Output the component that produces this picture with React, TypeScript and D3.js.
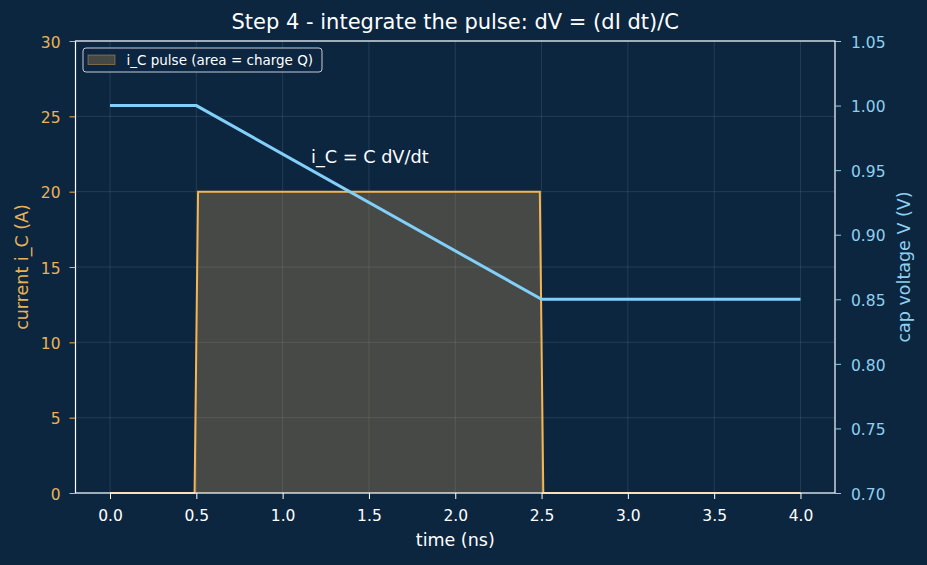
import * as d3 from "d3";
import React, { useRef, useEffect } from "react";

const currentTimes = [0, 0.49, 0.51, 2.49, 2.51, 4.0];
const currentValues = [0, 0, 20, 20, 0, 0];
const voltageTimes = [0, 0.5, 2.5, 4.0];
const voltageValues = [1.0, 1.0, 0.85, 0.85];
const xTicks = [0, 0.5, 1, 1.5, 2, 2.5, 3, 3.5, 4];
const leftTicks = [0, 5, 10, 15, 20, 25, 30];
const rightTicks = [0.7, 0.75, 0.8, 0.85, 0.9, 0.95, 1.0, 1.05];

const bg = "#0c2640";
const orange = "#f5b552";
const blue = "#82cffa";
const blueText = "#8ed0f0";
const orangeText = "#eab256";

export default function App() {
  const ref = useRef<SVGSVGElement>(null);
  const width = 927;
  const height = 565;
  const m = { left: 75.5, right: 835, top: 41, bottom: 493 };

  useEffect(() => {
    const svg = d3.select(ref.current);
    svg.selectAll("*").remove();
    const font = "DejaVu Sans, sans-serif";
    const tickFont = 15.5;

    svg.append("rect").attr("width", width).attr("height", height).attr("fill", bg);

    const x = d3.scaleLinear().domain([-0.2, 4.2]).range([m.left, m.right]);
    const yL = d3.scaleLinear().domain([0, 30]).range([m.bottom, m.top]);
    const yR = d3.scaleLinear().domain([0.7, 1.05]).range([m.bottom, m.top]);

    // grid
    const grid = svg.append("g").attr("stroke", "#ffffff").attr("stroke-opacity", 0.13).attr("stroke-width", 0.8);
    xTicks.forEach((t) => {
      grid.append("line").attr("x1", x(t)).attr("x2", x(t)).attr("y1", m.top).attr("y2", m.bottom);
    });
    leftTicks.forEach((t) => {
      grid.append("line").attr("x1", m.left).attr("x2", m.right).attr("y1", yL(t)).attr("y2", yL(t));
    });

    const pts = currentTimes.map((t, i) => [t, currentValues[i]] as [number, number]);

    // fill under pulse
    const area = d3.area<[number, number]>().x((d) => x(d[0])).y0(yL(0)).y1((d) => yL(d[1]));
    svg.append("path").datum(pts).attr("d", area).attr("fill", orange).attr("fill-opacity", 0.25);

    const lineL = d3.line<[number, number]>().x((d) => x(d[0])).y((d) => yL(d[1]));
    svg.append("path").datum(pts).attr("d", lineL).attr("fill", "none").attr("stroke", orange).attr("stroke-width", 2);

    const vpts = voltageTimes.map((t, i) => [t, voltageValues[i]] as [number, number]);
    const lineR = d3.line<[number, number]>().x((d) => x(d[0])).y((d) => yR(d[1]));
    svg.append("path").datum(vpts).attr("d", lineR).attr("fill", "none").attr("stroke", blue).attr("stroke-width", 3);

    // spines
    svg.append("rect").attr("x", m.left).attr("y", m.top).attr("width", m.right - m.left).attr("height", m.bottom - m.top)
      .attr("fill", "none").attr("stroke", "#ffffff").attr("stroke-width", 1.2);

    // x axis
    const gx = svg.append("g").attr("transform", `translate(0,${m.bottom})`)
      .call(d3.axisBottom(x).tickValues(xTicks).tickFormat(d3.format(".1f")).tickSize(6).tickPadding(11));
    gx.select(".domain").remove();
    gx.selectAll("line").attr("stroke", "#ffffff");
    gx.selectAll("text").attr("fill", "#ffffff").attr("font-size", tickFont).attr("font-family", font);

    const gl = svg.append("g").attr("transform", `translate(${m.left},0)`)
      .call(d3.axisLeft(yL).tickValues(leftTicks).tickFormat(d3.format("d")).tickSize(6).tickPadding(9));
    gl.select(".domain").remove();
    gl.selectAll("line").attr("stroke", orangeText);
    gl.selectAll("text").attr("fill", orangeText).attr("font-size", tickFont).attr("font-family", font).attr("dy", "0.4em");

    const gr = svg.append("g").attr("transform", `translate(${m.right},0)`)
      .call(d3.axisRight(yR).tickValues(rightTicks).tickFormat(d3.format(".2f")).tickSize(6).tickPadding(10));
    gr.select(".domain").remove();
    gr.selectAll("line").attr("stroke", blueText);
    gr.selectAll("text").attr("fill", blueText).attr("font-size", tickFont).attr("font-family", font).attr("dy", "0.4em");

    // labels
    svg.append("text").attr("x", (m.left + m.right) / 2).attr("y", 546).attr("text-anchor", "middle")
      .attr("fill", "#ffffff").attr("font-size", 17.5).attr("font-family", font).text("time (ns)");
    svg.append("text").attr("transform", `translate(28,${(m.top + m.bottom) / 2}) rotate(-90)`).attr("text-anchor", "middle")
      .attr("fill", orangeText).attr("font-size", 17.5).attr("font-family", font).text("current i_C (A)");
    svg.append("text").attr("transform", `translate(910,${(m.top + m.bottom) / 2}) rotate(-90)`).attr("text-anchor", "middle")
      .attr("fill", blueText).attr("font-size", 17.5).attr("font-family", font).text("cap voltage V (V)");
    svg.append("text").attr("x", (m.left + m.right) / 2).attr("y", 29).attr("text-anchor", "middle")
      .attr("fill", "#ffffff").attr("font-size", 21).attr("font-family", font).text("Step 4 - integrate the pulse: dV = (dI dt)/C");

    svg.append("text").attr("x", 311).attr("y", 163).attr("fill", "#ffffff")
      .attr("font-size", 17.7).attr("font-family", font).text("i_C = C dV/dt");

    // legend
    const lg = svg.append("g");
    lg.append("rect").attr("x", 83).attr("y", 48).attr("width", 239).attr("height", 24).attr("rx", 3)
      .attr("fill", bg).attr("fill-opacity", 0.8).attr("stroke", "#c8ccd2").attr("stroke-width", 1);
    lg.append("rect").attr("x", 88).attr("y", 55).attr("width", 27).attr("height", 9.5)
      .attr("fill", orange).attr("fill-opacity", 0.25).attr("stroke", orange).attr("stroke-opacity", 0.4);
    lg.append("text").attr("x", 126.5).attr("y", 65).attr("fill", "#ffffff").attr("font-size", 13.5)
      .attr("font-family", font).text("i_C pulse (area = charge Q)");
  }, []);

  return (
    <div className="chart" style={{ width, height }}>
      <svg ref={ref} width={width} height={height} style={{ display: "block", position: "absolute", left: 0, top: 0 }}></svg>
    </div>
  );
}
